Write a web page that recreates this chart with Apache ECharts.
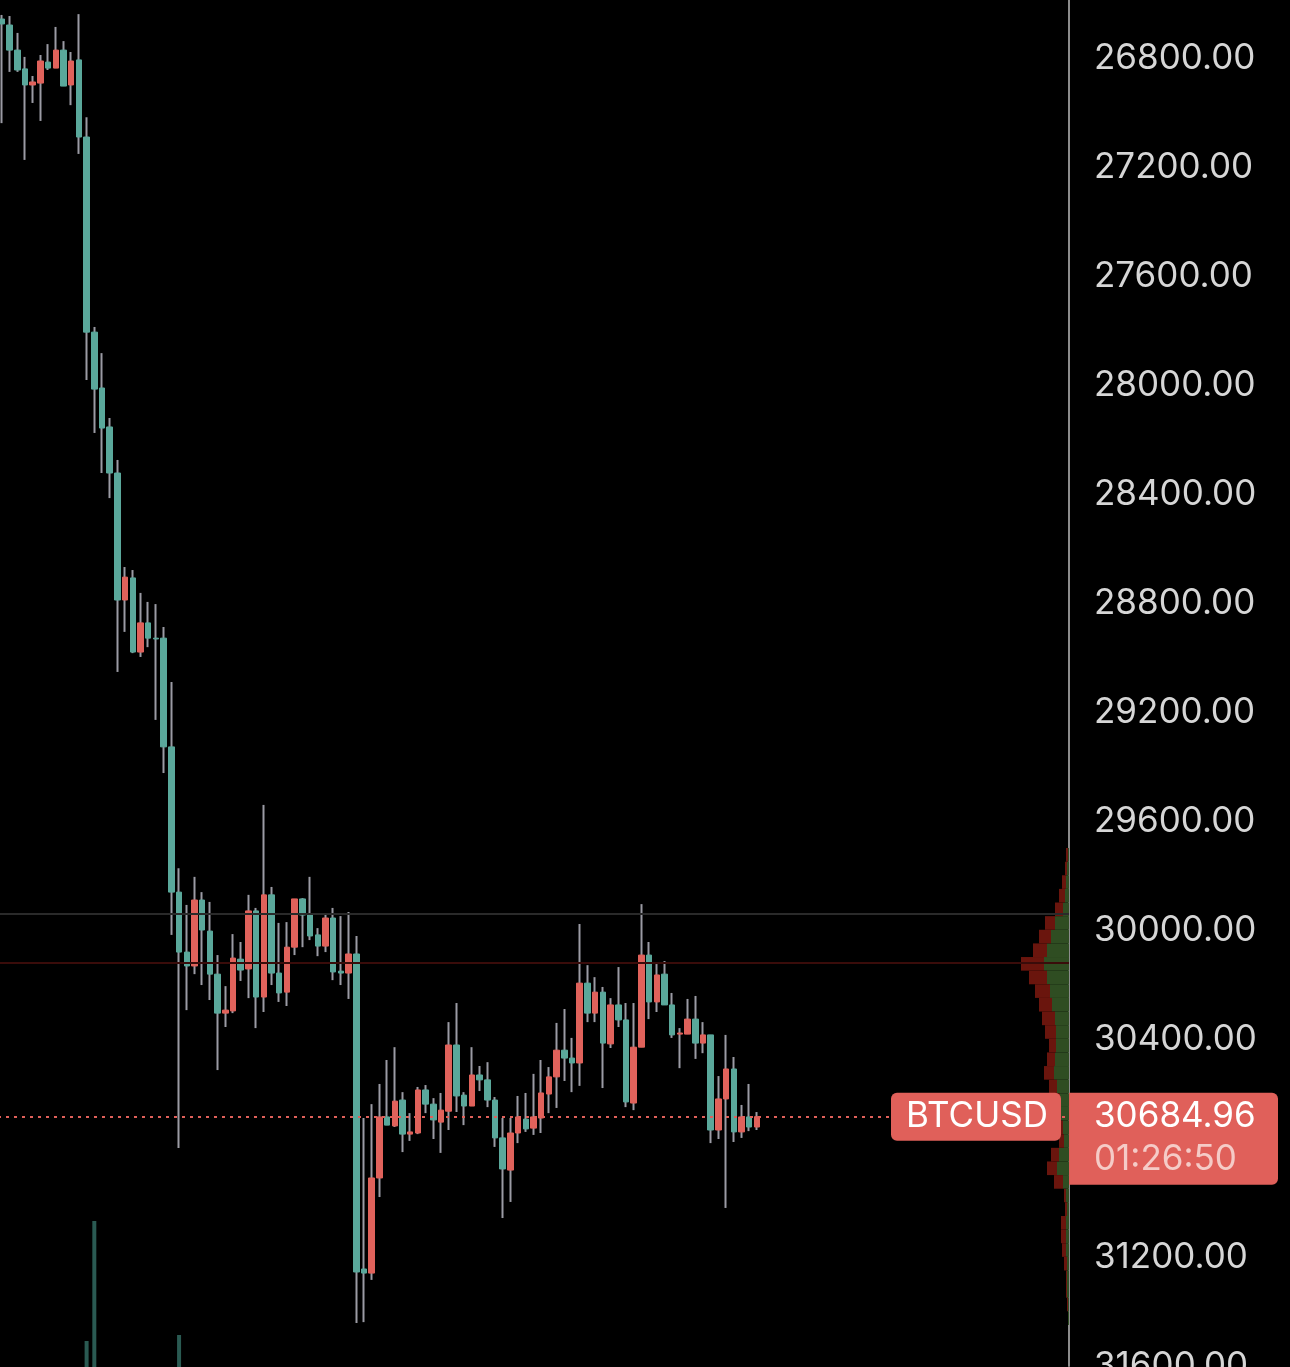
<!DOCTYPE html>
<html><head><meta charset="utf-8">
<script src="https://cdn.jsdelivr.net/npm/echarts@6/dist/echarts.min.js"></script>
<style>html,body{margin:0;padding:0;background:#000;overflow:hidden}#c{width:1290px;height:1367px}</style>
</head><body><div id="c"></div>
<script>
// ---- data (BTCUSD candles, price axis inverted) ----
const symbol = 'BTCUSD';
const countdown = '01:26:50';
const lastPrice = 30684.96;
const levelGray = 29941;
const levelPoc = 30121;
const slotCount = 139;

const opens = [26657,26679,26771,26840,26899,26892,26815,26837,26771,26899,
26807,27090,27806,28011,28154,28323,28789,28708,28980,28873,
28929,28929,29328,29861,30081,30132,29890,30004,30162,30305,
30297,30107,30143,29930,30246,29871,30158,30228,30063,29886,
29945,30018,30059,29956,30151,30158,30088,31244,31259,30910,
30686,30719,30624,30749,30745,30587,30639,30705,30665,30422,
30606,30646,30532,30550,30624,30763,30881,30745,30694,30727,
30690,30602,30539,30441,30470,30488,30195,30305,30228,30418,
30275,30330,30635,30430,30092,30264,30162,30275,30382,30382,
30327,30415,30385,30734,30620,30510,30741,30686,30723];
const closes = [26675,26771,26844,26899,26888,26811,26837,26771,26903,26811,
27090,27806,28015,28158,28323,28789,28705,28980,28873,28929,
28932,29328,29861,30081,30132,29890,30000,30162,30305,30294,
30103,30147,29930,30246,29871,30158,30231,30063,29886,29945,
30022,30059,29956,30154,30158,30088,31255,31259,30910,30686,
30716,30628,30749,30741,30587,30639,30697,30661,30422,30609,
30646,30532,30550,30624,30763,30877,30745,30686,30730,30686,
30598,30539,30441,30470,30488,30195,30305,30228,30415,30275,
30330,30631,30430,30092,30264,30165,30275,30385,30378,30327,
30415,30385,30734,30620,30510,30741,30686,30723,30684.96];
const lows = [26642,26646,26708,26796,26866,26789,26749,26686,26738,26778,
26639,27017,27787,27883,28121,28275,28668,28679,28763,28796,
28804,28888,29090,29773,29908,29805,29861,29897,30092,30206,
30015,30044,29871,29919,29541,29842,29974,29971,29886,29883,
29805,29993,29938,29919,29949,29934,30022,30690,30639,30565,
30477,30430,30595,30672,30576,30569,30617,30598,30338,30268,
30595,30430,30499,30485,30613,30690,30690,30609,30598,30528,
30477,30503,30341,30290,30396,29978,30129,30173,30209,30250,
30136,30268,30268,29905,30044,30125,30114,30231,30360,30253,
30242,30338,30385,30536,30385,30466,30642,30565,30668];
const highs = [27039,26851,26851,27174,26965,27031,26844,26837,26903,26973,
27152,27982,28176,28323,28415,29053,28906,28984,28998,28962,
29229,29424,30018,30800,30294,30162,30202,30257,30514,30356,
30305,30187,30250,30360,30301,30202,30264,30279,30092,30063,
30037,30096,30081,30184,30202,30253,31442,31439,31284,30980,
30716,30723,30815,30774,30749,30672,30767,30818,30734,30668,
30716,30646,30591,30650,30796,31057,30998,30782,30741,30752,
30745,30672,30653,30554,30595,30572,30338,30338,30580,30433,
30356,30650,30661,30430,30327,30301,30275,30396,30507,30382,
30473,30452,30782,30767,31020,30778,30763,30738,30734];

// visible tops of volume bars: [candle index, volume]
const volumeBars = [[11, 260], [12, 1460], [23, 320]];

// volume profile (price bins of 50)
const profileLevels = [29700,29750,29800,29850,29900,29950,30000,30050,30100,30150,
30200,30250,30300,30350,30400,30450,30500,30550,30600,30650,
30700,30750,30800,30850,30900,30950,31000,31050,31100,31150,
31200,31250,31300,31350,31400];
const profileUp = [1,2,3,4,6,14,18,22,25,22,19,17,14,13,13,14,15,12,9,8,6,5,10,12,6,3,2,3,3,3,2,2,2,1,1];
const profileDown = [2,2,4,6,8,10,12,14,23,18,15,13,13,11,7,8,10,8,7,6,6,5,8,10,9,2,2,5,5,4,3,1,1,1,0];

// ---- chart ----
const slots = Array.from({length: slotCount}, (_, i) => 'b' + i);
const TEAL = '#5aa89b', RED = '#e0625b', WICK = '#9b9ba4', LABEL_RED = '#e0605a';
const FONT = 'Inter, Roboto, sans-serif';
const FS = 35;

const wickData = opens.map((o, i) => [o, closes[i], lows[i], highs[i]]);
const bodyData = opens.map((o, i) => [o, closes[i], Math.min(o, closes[i]), Math.max(o, closes[i])]);

const chart = echarts.init(document.getElementById('c'), null, {renderer: 'canvas'});
chart.setOption({
  backgroundColor: '#000',
  animation: false,
  grid: [
    {left: -2, right: 221, top: -51, bottom: 1, outerBoundsMode: 'none', containLabel: false},
    {left: -2, right: 221, top: 1150, bottom: 0, outerBoundsMode: 'none', containLabel: false},
    {right: 221, width: 60, top: 848, height: 477, outerBoundsMode: 'none', containLabel: false}
  ],
  xAxis: [
    {type: 'category', data: slots, gridIndex: 0, boundaryGap: true, show: false},
    {type: 'category', data: slots, gridIndex: 1, boundaryGap: true, show: false},
    {type: 'value', gridIndex: 2, inverse: true, min: 0, max: 60, show: false}
  ],
  yAxis: [
    {type: 'value', gridIndex: 0, inverse: true, min: 26400, max: 31600, interval: 400,
     position: 'right',
     axisLine: {show: true, lineStyle: {color: '#8c8c8c', width: 2}},
     axisTick: {show: false}, splitLine: {show: false},
     axisLabel: {color: '#d6d6d6', fontSize: FS, fontFamily: FONT, margin: 25,
                 formatter: v => v.toFixed(2)}},
    {type: 'value', gridIndex: 1, min: 0, max: 2170, show: false},
    {type: 'category', gridIndex: 2, data: profileLevels, inverse: true, show: false}
  ],
  series: [
    {type: 'bar', xAxisIndex: 1, yAxisIndex: 1, data: volumeBars, barWidth: 4,
     itemStyle: {color: '#2a5a52'}, silent: true},
    {type: 'bar', xAxisIndex: 2, yAxisIndex: 2, stack: 'vp', data: profileUp,
     barCategoryGap: '0%', itemStyle: {color: '#2f4d22'}, silent: true},
    {type: 'bar', xAxisIndex: 2, yAxisIndex: 2, stack: 'vp', data: profileDown,
     barCategoryGap: '0%', itemStyle: {color: '#6a150d'}, silent: true},
    {type: 'candlestick', xAxisIndex: 0, yAxisIndex: 0, data: wickData, barWidth: 1,
     itemStyle: {color: WICK, color0: WICK, borderColor: WICK, borderColor0: WICK, borderWidth: 2},
     markLine: {
       silent: true, symbol: ['none', 'none'], label: {show: false},
       data: [
         {yAxis: levelGray, lineStyle: {color: '#2a2a2a', width: 2, type: 'solid'}},
         {yAxis: levelPoc, lineStyle: {color: '#3a0c0a', width: 2, type: 'solid'}}
       ]
     }},
    {type: 'candlestick', xAxisIndex: 0, yAxisIndex: 0, data: bodyData, barWidth: 6,
     itemStyle: {color: TEAL, color0: RED, borderColor: TEAL, borderColor0: RED, borderWidth: 1},
     markLine: {
       silent: true, symbol: ['none', 'none'], label: {show: false},
       data: [{yAxis: lastPrice, lineStyle: {color: LABEL_RED, width: 2, type: [3, 5]}}]
     }}
  ]
});

const yPx = chart.convertToPixel({yAxisIndex: 0}, lastPrice);
chart.setOption({
  graphic: [
    {type: 'rect', z: 100, shape: {x: 891, y: yPx - 24, width: 170, height: 48, r: 6},
     style: {fill: LABEL_RED}},
    {type: 'text', z: 101, x: 977, y: yPx,
     style: {text: symbol, fill: '#ffffff', fontSize: FS, fontFamily: FONT,
             align: 'center', verticalAlign: 'middle'}},
    {type: 'rect', z: 100, shape: {x: 1069, y: yPx - 24, width: 209, height: 92, r: [0, 6, 6, 0]},
     style: {fill: LABEL_RED}},
    {type: 'text', z: 101, x: 1094, y: yPx,
     style: {text: lastPrice.toFixed(2), fill: '#ffffff', fontSize: FS, fontFamily: FONT,
             align: 'left', verticalAlign: 'middle'}},
    {type: 'text', z: 101, x: 1094, y: yPx + 43,
     style: {text: countdown, fill: '#f5cbc7', fontSize: FS, fontFamily: FONT,
             align: 'left', verticalAlign: 'middle'}}
  ]
});
</script>
</body></html>
